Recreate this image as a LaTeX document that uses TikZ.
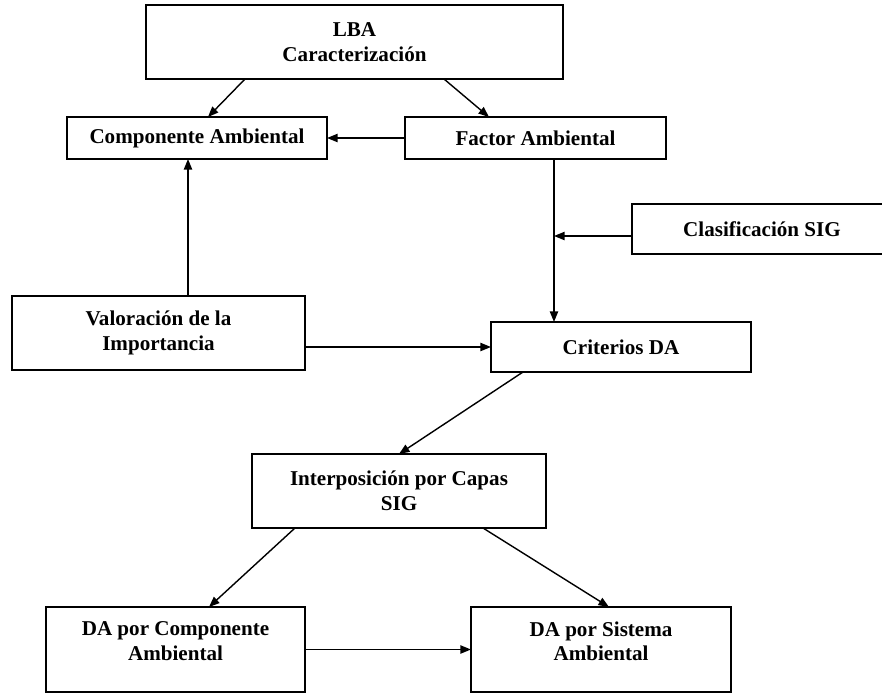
\documentclass[tikz,border=0pt]{standalone}
\usepackage{fontspec}
\setmainfont{Liberation Serif}
\usetikzlibrary{arrows.meta}
\usetikzlibrary{calc}

\begin{document}
\begin{tikzpicture}[x=0.03cm,y=-0.03cm,line width=1.2pt,
    box/.style={draw,outer sep=0pt,inner sep=2pt,align=center,font=\bfseries\fontsize{18}{21.3}\selectfont},
    arr/.style={-{Triangle[length=9pt,width=7pt]}}]

    % fix the page size
    \useasboundingbox (0,0) rectangle (882,693);

    % draw boxes
    \node[box,minimum width=12.51cm,minimum height=2.22cm] (lba) at (354.5,42) {LBA\\Caracterización};
    \node[box,minimum width=7.8cm,minimum height=1.26cm] (comp) at (197,138) {Componente Ambiental};
    \node[box,minimum width=7.83cm,minimum height=1.26cm] (factor) at (535.5,138) {Factor Ambiental};
    \node[box,minimum width=7.8cm,minimum height=1.5cm] (clasif) at (762,229) {Clasificación SIG};
    \node[box,minimum width=8.79cm,minimum height=2.22cm] (valor) at (158.5,333) {Valoración de la\\Importancia};
    \node[box,minimum width=7.8cm,minimum height=1.5cm] (crit) at (621,347) {Criterios DA};
    \node[box,minimum width=8.82cm,minimum height=2.22cm] (inter) at (399,491) {Interposición por Capas\\SIG};
    \node[box,minimum width=7.77cm,minimum height=2.55cm,text depth=0.5cm] (dacomp) at (175.5,649.5) {DA por Componente\\Ambiental};
    \node[box,minimum width=7.8cm,minimum height=2.55cm,text depth=0.5cm] (dasis) at (601,649.5) {DA por Sistema\\Ambiental};

    % arrows out of LBA
    \draw[arr] ($(lba.south)+(-109.5,0)$) -- ($(comp.north)+(11,0)$);
    \draw[arr] ($(lba.south)+(89.5,0)$) -- ($(factor.north)+(-46.5,0)$);
    \draw[arr] (factor.west) -- (comp.east);

    % vertical line down to Criterios DA
    \coordinate (fd) at ($(factor.south)+(18.5,0)$);
    \draw[arr] (fd) -- (fd |- crit.north);
    \coordinate (cl) at ($(clasif.west)+(0,7)$);
    \draw[arr] (cl) -- (cl -| fd);

    % arrows out of Valoracion
    \coordinate (cu) at ($(comp.south)+(-9,0)$);
    \draw[arr] (cu |- valor.north) -- (cu);
    \draw[arr] (valor.east |- crit.west) -- (crit.west);

    % lower part
    \draw[arr] ($(crit.south west)+(32,0)$) -- (inter.north);
    \draw[arr] ($(inter.south west)+(43,0)$) -- ($(dacomp.north)+(33.5,0)$);
    \draw[arr] ($(inter.south)+(84,0)$) -- ($(dasis.north)+(8,0)$);
    \draw[arr] (dacomp.east) -- (dasis.west);

\end{tikzpicture}
\end{document}
